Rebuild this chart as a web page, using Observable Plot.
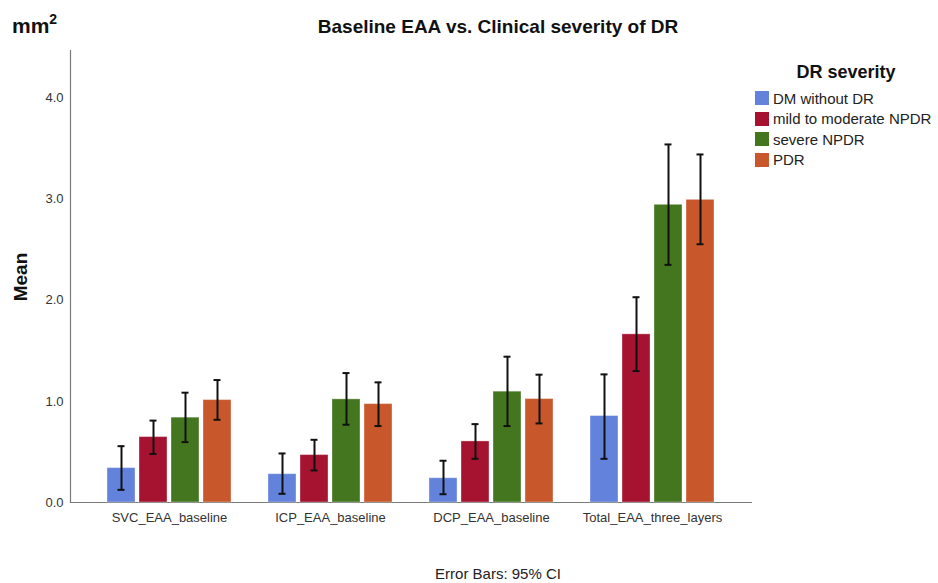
<!DOCTYPE html>
<html><head><meta charset="utf-8">
<script src="https://cdn.jsdelivr.net/npm/d3@7"></script>
<script src="https://cdn.jsdelivr.net/npm/@observablehq/plot@0.6"></script>
<style>
body{margin:0;background:#fff;font-family:"Liberation Sans",Arial,sans-serif;}
#wrap{position:relative;width:938px;height:583px;overflow:hidden;background:#fff;}
#wrap svg{position:absolute;left:0;top:0;}
.t{position:absolute;line-height:1;white-space:nowrap;color:#111;}
#title{left:298px;width:400px;top:17px;text-align:center;font-size:19px;font-weight:bold;}
#unit{left:12px;top:15px;font-size:21px;font-weight:bold;}
#unit sup{font-size:14px;vertical-align:top;position:relative;top:-3px;}
#ylab{left:20px;top:277px;font-size:19px;font-weight:bold;transform:translate(-50%,-50%) rotate(-90deg);}
#legtitle{left:796px;width:100px;text-align:center;top:63px;font-size:18px;font-weight:bold;}
#legend{position:absolute;left:755px;top:88px;}
.row{display:flex;align-items:center;height:20.5px;font-size:15px;color:#222;}
.sw{width:14px;height:14px;margin-right:4px;}
#caption{left:398px;width:200px;text-align:center;top:566px;font-size:15px;color:#222;}
</style></head><body>
<div id="wrap">
  <div class="t" id="unit">mm<sup>2</sup></div>
  <div class="t" id="title">Baseline EAA vs. Clinical severity of DR</div>
  <div class="t" id="ylab">Mean</div>
  <div class="t" id="legtitle">DR severity</div>
  <div id="legend"></div>
  <div class="t" id="caption">Error Bars: 95% CI</div>
</div>
<script>
const groups = ["SVC_EAA_baseline", "ICP_EAA_baseline", "DCP_EAA_baseline", "Total_EAA_three_layers"];
const severities = ["DM without DR", "mild to moderate NPDR", "severe NPDR", "PDR"];
const colors = ["#6282dc", "#a51331", "#447620", "#c8582b"];
const yTicks = [0, 1, 2, 3, 4];

// one row per severity, one column per group
const meanValues = [
  [0.34, 0.28, 0.24, 0.855],
  [0.647, 0.469, 0.604, 1.663],
  [0.839, 1.02, 1.096, 2.944],
  [1.013, 0.973, 1.023, 2.993]
];
const ciLow = [
  [0.125, 0.086, 0.082, 0.432],
  [0.48, 0.317, 0.432, 1.30],
  [0.597, 0.769, 0.756, 2.35],
  [0.818, 0.756, 0.782, 2.554]
];
const ciHigh = [
  [0.557, 0.485, 0.413, 1.267],
  [0.81, 0.62, 0.775, 2.03],
  [1.086, 1.28, 1.442, 3.541],
  [1.211, 1.188, 1.264, 3.442]
];

const data = [];
severities.forEach((s, i) => groups.forEach((g, j) => {
  data.push({group: g, severity: s, mean: meanValues[i][j], low: ciLow[i][j], high: ciHigh[i][j]});
}));

const frameOpts = {
  width: 752,
  height: 583,
  marginLeft: 70,
  marginRight: 0,
  marginTop: 50,
  marginBottom: 81,
  style: {fontFamily: "Liberation Sans, Arial, sans-serif", fontSize: "13px", color: "#333", background: "transparent"}
};
const yScale = {domain: [0, 4.47], ticks: yTicks, tickFormat: d3.format(".1f"), tickSize: 0, tickPadding: 7, label: null};

// axes layer: full-width y axis and the two axis lines
const axes = Plot.plot({
  ...frameOpts,
  x: {domain: [0, 1], axis: null},
  y: yScale,
  marks: [
    Plot.frame({anchor: "left", stroke: "#7a7a7a", strokeWidth: 1.2}),
    Plot.frame({anchor: "bottom", stroke: "#7a7a7a", strokeWidth: 1.2})
  ]
});

// bars layer: faceted by group
const bars = Plot.plot({
  ...frameOpts,
  fx: {domain: groups, paddingInner: 0.19, paddingOuter: 0.21, label: null, axis: "bottom", tickSize: 0, tickPadding: 10},
  x: {domain: severities, paddingInner: 0.113, paddingOuter: 0.0565, axis: null},
  y: {...yScale, axis: null},
  color: {domain: severities, range: colors},
  marks: [
    Plot.barY(data, {fx: "group", x: "severity", y: "mean", fill: "severity", stroke: "#ffffff", strokeOpacity: 0.35, strokeWidth: 1}),
    Plot.ruleX(data, {fx: "group", x: "severity", y1: "low", y2: "high", stroke: "#111", strokeWidth: 2}),
    Plot.tickY(data, {fx: "group", x: "severity", y: "low", stroke: "#111", strokeWidth: 2, insetLeft: 10.5, insetRight: 10.5}),
    Plot.tickY(data, {fx: "group", x: "severity", y: "high", stroke: "#111", strokeWidth: 2, insetLeft: 10.5, insetRight: 10.5})
  ]
});

const wrap = document.getElementById("wrap");
wrap.prepend(bars);
wrap.prepend(axes);

const legend = document.getElementById("legend");
severities.forEach((s, i) => {
  const row = document.createElement("div");
  row.className = "row";
  const sw = document.createElement("div");
  sw.className = "sw";
  sw.style.background = colors[i];
  const lab = document.createElement("span");
  lab.textContent = s;
  row.append(sw, lab);
  legend.append(row);
});
</script>
</body></html>
